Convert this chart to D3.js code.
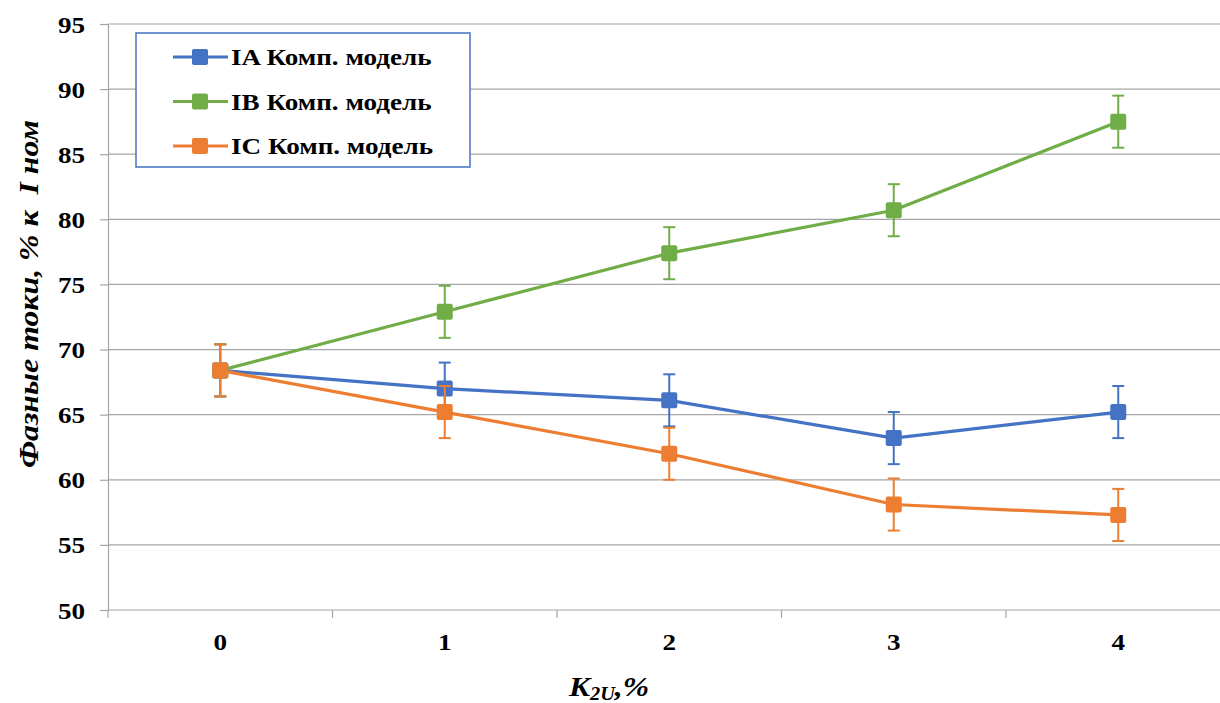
<!DOCTYPE html>
<html>
<head>
<meta charset="utf-8">
<script src="https://cdn.jsdelivr.net/npm/d3@7/dist/d3.min.js"></script>
<style>
  html, body { margin: 0; padding: 0; background: #fff; }
  svg { display: block; }
</style>
</head>
<body>
<svg id="chart" width="1220" height="703"></svg>
<script>
// K2U levels, %
const categories = ["0", "1", "2", "3", "4"];
// Phase currents, % of nominal
const seriesNames = ["IA Комп. модель", "IB Комп. модель", "IC Комп. модель"];
const iaValues = [68.4, 67.0, 66.1, 63.2, 65.2];
const ibValues = [68.4, 72.9, 77.4, 80.7, 87.5];
const icValues = [68.4, 65.2, 62.0, 58.1, 57.3];
const errorAmount = 2;
const yTicks = [50, 55, 60, 65, 70, 75, 80, 85, 90, 95];
const colors = ["#4472C4", "#70AD47", "#ED7D31"];

const series = [iaValues, ibValues, icValues].map((v, i) => ({ name: seriesNames[i], values: v, color: colors[i] }));

const FONT = '"Liberation Serif"';
const SX = 1.13; // horizontal widening of the bold serif labels

const svg = d3.select("#chart");
const plot = { left: 108, right: 1230.5, top: 24, bottom: 610 };

const x = d3.scaleBand().domain(categories).range([plot.left, plot.right]).padding(0);
const y = d3.scaleLinear().domain([50, 95]).range([plot.bottom, plot.top]);
const cx = c => x(c) + x.bandwidth() / 2;

function label(parent, tx, ty, str, size, anchor, italic) {
  return parent.append("text")
    .attr("transform", `translate(${tx},${ty}) scale(${SX},1)`)
    .attr("text-anchor", anchor || "start")
    .style("font-family", FONT).style("font-weight", "bold")
    .style("font-style", italic ? "italic" : "normal")
    .style("font-size", size + "px").attr("fill", "#000")
    .text(str);
}

// horizontal gridlines
svg.append("g")
  .selectAll("line").data(yTicks.filter(t => t > 50)).join("line")
  .attr("x1", plot.left).attr("x2", plot.right)
  .attr("y1", d => y(d)).attr("y2", d => y(d))
  .attr("stroke", "#A6A6A6").attr("stroke-width", 1.2);

// value axis
const yAxis = svg.append("g").attr("transform", `translate(${plot.left},0)`)
  .call(d3.axisLeft(y).tickValues(yTicks).tickSize(8).tickFormat(""));
yAxis.select(".domain").attr("stroke", "#A6A6A6").attr("stroke-width", 1.2);
yAxis.selectAll(".tick line").attr("stroke", "#A6A6A6").attr("stroke-width", 1.2);
yTicks.forEach(t => label(svg, 85, y(t) + 8.5, String(t), 24, "end"));

// category axis with boundary ticks
const xg = svg.append("g").attr("transform", `translate(0,${plot.bottom})`);
xg.append("line").attr("x1", plot.left).attr("x2", plot.right)
  .attr("stroke", "#A6A6A6").attr("stroke-width", 1.2);
xg.selectAll("line.b").data(categories).join("line").attr("class", "b")
  .attr("x1", d => x(d)).attr("x2", d => x(d)).attr("y1", 0).attr("y2", 8)
  .attr("stroke", "#A6A6A6").attr("stroke-width", 1.2);
categories.forEach(c => label(xg, cx(c), 40, c, 24, "middle"));

// series: lines, error bars, markers
const line = d3.line().x((d, i) => cx(categories[i])).y(d => y(d));
series.forEach(s => {
  const g = svg.append("g");
  g.append("path").datum(s.values).attr("d", line)
    .attr("fill", "none").attr("stroke", s.color).attr("stroke-width", 3.2).attr("stroke-linejoin", "round");
  const eb = g.selectAll("g.eb").data(s.values).join("g").attr("class", "eb");
  eb.append("line")
    .attr("x1", (d, i) => cx(categories[i])).attr("x2", (d, i) => cx(categories[i]))
    .attr("y1", d => y(d - errorAmount)).attr("y2", d => y(d + errorAmount))
    .attr("stroke", s.color).attr("stroke-width", 2);
  [-1, 1].forEach(sg => {
    eb.append("line")
      .attr("x1", (d, i) => cx(categories[i]) - 6).attr("x2", (d, i) => cx(categories[i]) + 6)
      .attr("y1", d => y(d + sg * errorAmount)).attr("y2", d => y(d + sg * errorAmount))
      .attr("stroke", s.color).attr("stroke-width", 2);
  });
  g.selectAll("rect").data(s.values).join("rect")
    .attr("x", (d, i) => cx(categories[i]) - 8).attr("y", d => y(d) - 8)
    .attr("width", 16).attr("height", 16).attr("rx", 2)
    .attr("fill", s.color);
});

// legend
const lg = svg.append("g");
lg.append("rect").attr("x", 136).attr("y", 33).attr("width", 334).attr("height", 134)
  .attr("fill", "#fff").attr("stroke", "#4472C4").attr("stroke-width", 1.5);
series.forEach((s, i) => {
  const ly = 57 + i * 44.5;
  lg.append("line").attr("x1", 173).attr("x2", 228).attr("y1", ly).attr("y2", ly)
    .attr("stroke", s.color).attr("stroke-width", 3.2);
  lg.append("rect").attr("x", 192).attr("y", ly - 8).attr("width", 16).attr("height", 16)
    .attr("rx", 2).attr("fill", s.color);
  label(lg, 231, ly + 8, s.name, 24, "start");
});

// axis titles
svg.append("text")
  .attr("transform", "translate(38,294) rotate(-90)")
  .attr("text-anchor", "middle")
  .style("font-family", FONT).style("font-weight", "bold").style("font-style", "italic")
  .style("font-size", "28px").attr("fill", "#000")
  .attr("textLength", 348).attr("lengthAdjust", "spacingAndGlyphs")
  .attr("xml:space", "preserve")
  .text("Фазные токи, % к  I ном");

const xt = svg.append("text")
  .attr("transform", `translate(609,696) scale(${SX},1)`).attr("text-anchor", "middle")
  .style("font-family", FONT).style("font-weight", "bold").style("font-style", "italic")
  .style("font-size", "28px").attr("fill", "#000");
xt.append("tspan").text("K");
xt.append("tspan").style("font-size", "18px").attr("dy", 4).text("2U");
xt.append("tspan").attr("dy", -4).text(",%");
</script>
</body>
</html>
